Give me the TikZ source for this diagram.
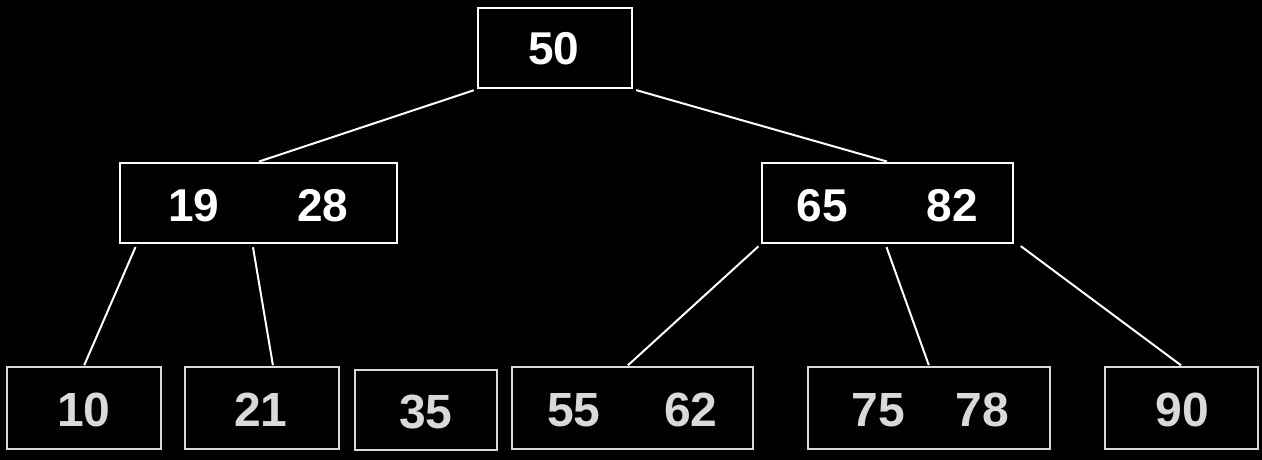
\documentclass[tikz,border=0pt]{standalone}
\usepackage{fontspec}
\setmainfont{Liberation Sans}
\definecolor{leafgray}{HTML}{D9D9D9}
\begin{document}
\begin{tikzpicture}[x=1pt,y=-1pt,
  topbox/.style={draw=white,line width=2.6pt,rectangle,inner sep=0pt},
  leafbox/.style={draw=leafgray,line width=2.6pt,rectangle,inner sep=0pt},
  toptext/.style={text=white,font=\fontsize{46}{46}\selectfont\bfseries,inner sep=0pt},
  leaftext/.style={text=leafgray,font=\fontsize{48}{48}\selectfont\bfseries,inner sep=0pt},
  edge/.style={draw=white,line width=2pt,shorten <=3pt,shorten >=0.5pt}]
\fill[black] (0,0) rectangle (1262,460);
\useasboundingbox (0,0) rectangle (1262,460);
% boxes
\node[topbox,minimum width=154pt,minimum height=80pt] (root) at (555,48) {};
\node[topbox,minimum width=277pt,minimum height=80pt] (L) at (258.5,203) {};
\node[topbox,minimum width=251pt,minimum height=80pt] (R) at (887.5,203) {};
\node[leafbox,minimum width=154pt,minimum height=82pt] (b10) at (84,408) {};
\node[leafbox,minimum width=154pt,minimum height=82pt] (b21) at (262,408) {};
\node[leafbox,minimum width=142pt,minimum height=80pt] (b35) at (426,410) {};
\node[leafbox,minimum width=241pt,minimum height=82pt] (b55) at (632.5,408) {};
\node[leafbox,minimum width=242pt,minimum height=82pt] (b75) at (929,408) {};
\node[leafbox,minimum width=153pt,minimum height=82pt] (b90) at (1181.5,408) {};
% texts
\node[toptext] (t50) at (554,49) {50};
\node[toptext] (t19) at (194,206) {19};
\node[toptext] (t28) at (323,206) {28};
\node[toptext] (t65) at (822,206) {65};
\node[toptext] (t82) at (952,206) {82};
\node[leaftext] (t10) at (84,410) {10};
\node[leaftext] (t21) at (261,410) {21};
\node[leaftext] (t35) at (426,412) {35};
\node[leaftext] (t55) at (574,410) {55};
\node[leaftext] (t62) at (691,410) {62};
\node[leaftext] (t75) at (878,410) {75};
\node[leaftext] (t78) at (982,410) {78};
\node[leaftext] (t90) at (1182,410) {90};
% connectors
\draw[edge] (root.south west) -- (L.north);
\draw[edge] (root.south east) -- (R.north);
\draw[edge] ([xshift=18pt]L.south west) -- (b10.north);
\draw[edge] ([xshift=-6pt]L.south) -- ([xshift=11pt]b21.north);
\draw[edge] (R.south west) -- ([xshift=-5pt]b55.north);
\draw[edge] ([xshift=-2pt]R.south) -- (b75.north);
\draw[edge] ([xshift=4pt]R.south east) -- (b90.north);
\end{tikzpicture}
\end{document}
